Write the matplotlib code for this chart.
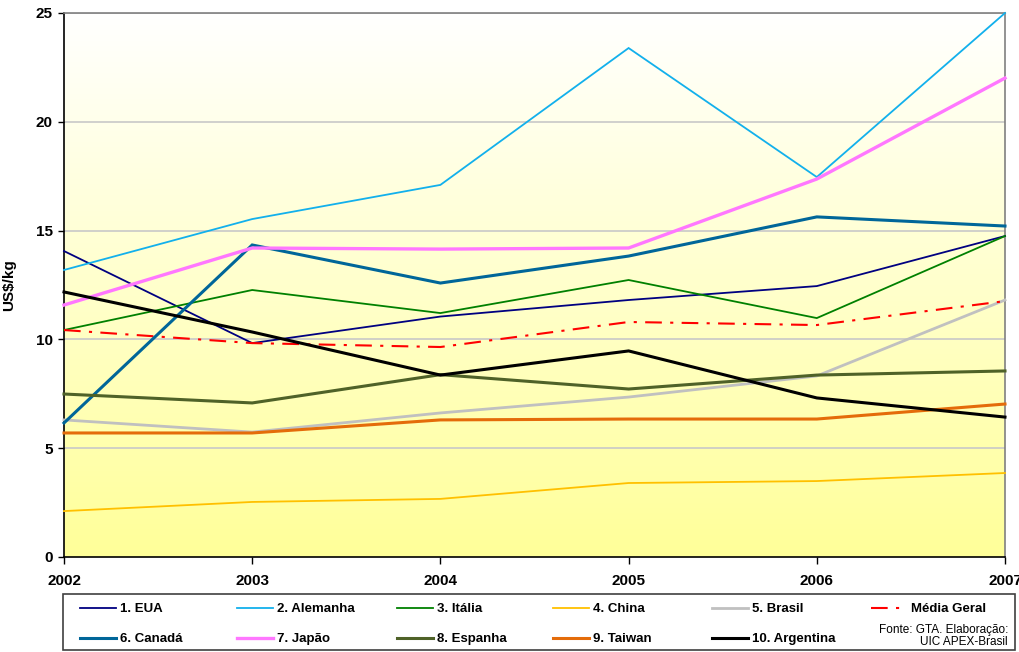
import numpy as np
import matplotlib
matplotlib.use("Agg")
import matplotlib.pyplot as plt
from matplotlib.patches import Rectangle

plt.rcParams["font.family"] = ["Liberation Sans", "DejaVu Sans"]

anos = [2002, 2003, 2004, 2005, 2006, 2007]

eua = [14.06, 9.83, 11.05, 11.81, 12.45, 14.75]
alemanha = [13.19, 15.53, 17.10, 23.39, 17.46, 25.0]
italia = [10.43, 12.27, 11.21, 12.73, 10.98, 14.75]
china = [2.11, 2.53, 2.67, 3.40, 3.49, 3.86]
brasil = [6.30, 5.74, 6.62, 7.35, 8.32, 11.81]
media = [10.43, 9.83, 9.65, 10.80, 10.66, 11.76]
canada = [6.16, 14.34, 12.59, 13.83, 15.63, 15.21]
japao = [11.58, 14.20, 14.15, 14.20, 17.37, 22.01]
espanha = [7.49, 7.08, 8.38, 7.72, 8.36, 8.55]
taiwan = [5.70, 5.70, 6.30, 6.34, 6.34, 7.03]
argentina = [12.18, 10.34, 8.36, 9.47, 7.31, 6.43]

series = [
    ("1. EUA", eua, "#000080", 1.3, "-"),
    ("2. Alemanha", alemanha, "#12B0EC", 1.3, "-"),
    ("3. Itália", italia, "#008000", 1.3, "-"),
    ("4. China", china, "#FFC000", 1.3, "-"),
    ("5. Brasil", brasil, "#C0C0C0", 2.0, "-"),
    ("Média Geral", media, "#FF0000", 1.5, (0, (8, 4, 1.5, 4))),
    ("6. Canadá", canada, "#006699", 2.2, "-"),
    ("7. Japão", japao, "#FF77FF", 2.4, "-"),
    ("8. Espanha", espanha, "#4F6228", 2.2, "-"),
    ("9. Taiwan", taiwan, "#E46C0A", 2.2, "-"),
    ("10. Argentina", argentina, "#000000", 2.2, "-"),
]

W, H = 1019, 652
fig = plt.figure(figsize=(W / 100, H / 100), dpi=100)
ax = fig.add_axes([64/W, 1 - 557/H, (1005-64)/W, (557-13)/H])

# fundo em degradê (branco em cima, amarelo em baixo)
grad = np.linspace(0, 1, 256).reshape(-1, 1)
cmap = matplotlib.colors.LinearSegmentedColormap.from_list("bg", ["#FFFF99", "#FFFFFF"])
ax.imshow(grad, aspect="auto", cmap=cmap, origin="lower",
          extent=[2002, 2007, 0, 25], zorder=0)

for y in [5, 10, 15, 20, 25]:
    ax.axhline(y, color="#C8C8C8", lw=1.2, zorder=1)

handles = {}
for nome, vals, cor, lw, ls in series:
    ln, = ax.plot(anos, vals, color=cor, lw=lw, linestyle=ls, zorder=3,
                  solid_joinstyle="miter", clip_on=False)
    handles[nome] = ln

ax.set_xlim(2002, 2007)
ax.set_ylim(0, 25)
ax.set_xticks(anos)
ax.set_yticks([0, 5, 10, 15, 20, 25])
for lab in ax.get_xticklabels() + ax.get_yticklabels():
    lab.set_fontweight("bold")
    lab.set_fontsize(11)
ax.tick_params(axis="x", direction="out", length=5, pad=7, width=1)
ax.tick_params(axis="y", direction="out", length=4, pad=4, width=1)

ax.spines["left"].set_color("black")
ax.spines["bottom"].set_color("black")
ax.spines["top"].set_color("#808080")
ax.spines["right"].set_color("#808080")
for s in ax.spines.values():
    s.set_linewidth(1.2)

ax.set_ylabel("US$/kg", fontweight="bold", fontsize=11, labelpad=14)

# caixa da legenda
fig.patches.append(Rectangle((63/W, 1 - 650/H), 952/W, 56/H, transform=fig.transFigure,
                             facecolor="white", edgecolor="#404040", lw=1.2, zorder=0))

colunas = [["1. EUA", "6. Canadá"], ["2. Alemanha", "7. Japão"], ["3. Itália", "8. Espanha"],
           ["4. China", "9. Taiwan"], ["5. Brasil", "10. Argentina"], ["Média Geral"]]
col_x = [80, 237, 397, 553, 712, 871]
for nomes, x in zip(colunas, col_x):
    leg = fig.legend([handles[n] for n in nomes], nomes, loc="upper left",
                     bbox_to_anchor=(x/W, 1 - 603/H), frameon=False,
                     prop={"weight": "bold", "size": 9.5}, handlelength=2.7,
                     handletextpad=0.3, borderpad=0, borderaxespad=0,
                     labelspacing=1.35)
    leg.set_zorder(2)

fig.text(1008/W, 1 - 636/H, "Fonte: GTA. Elaboração:\nUIC APEX-Brasil",
         ha="right", va="center", fontsize=8.5, linespacing=1.1, zorder=3)

fig.savefig("out.png", dpi=100)
